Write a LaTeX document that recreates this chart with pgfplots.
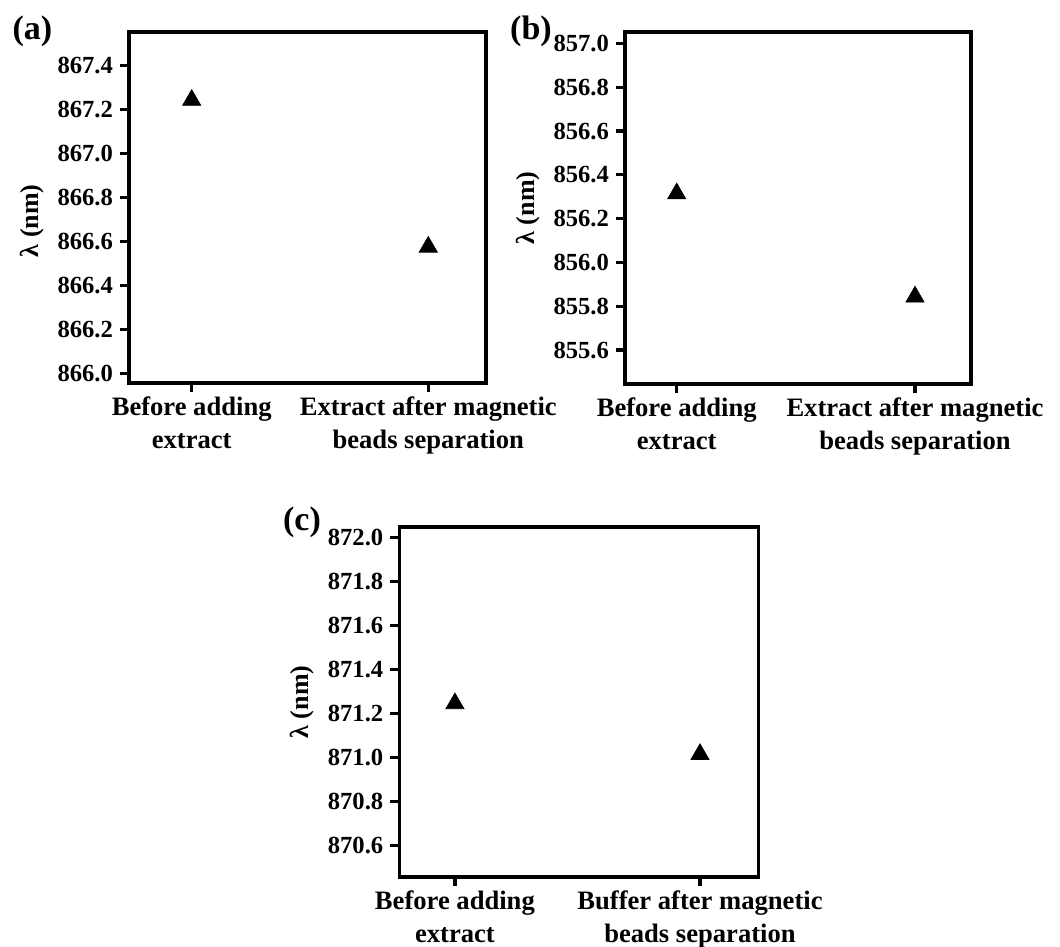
\documentclass[border=0pt]{standalone}
\usepackage{fontspec}
\setmainfont{Liberation Serif}
\usepackage{pgfplots}
\pgfplotsset{compat=1.18}
\pgfplotsset{
 panel/.style={
  scale only axis,
  anchor=south west,
  axis line style={line width=1.6pt},
  tick style={black, line width=1.6pt},
  tick align=outside,
  major tick length=4.5pt,
  xtick pos=left, ytick pos=left,
  xtick={0,1},
  x tick label style={align=center, font=\bfseries\fontsize{13.3}{16.5}\selectfont, yshift=1pt},
  y tick label style={font=\bfseries\fontsize{12.3}{14}\selectfont,
    /pgf/number format/fixed, /pgf/number format/fixed zerofill,
    /pgf/number format/precision=1, /pgf/number format/assume math mode=true},
  ylabel={λ (nm)},
  ylabel style={font=\bfseries\fontsize{13}{15}\selectfont},
  clip=false,
 },
 tri/.style={only marks, mark=triangle*, mark size=5.2pt, black}
}
\begin{document}
\begin{tikzpicture}
\useasboundingbox (0,0) rectangle (530pt,473.5pt);
% (a)
\begin{axis}[panel, at={(64.5pt,282pt)}, width=178.5pt, height=175.5pt,
  xmin=-0.265, xmax=1.244, ymin=865.956, ymax=867.553,
  ytick={866.0,866.2,866.4,866.6,866.8,867.0,867.2,867.4},
  xticklabels={{Before adding\\extract},{Extract after magnetic\\beads separation}},
  ylabel style={at={(ticklabel cs:0.462)}}]
\addplot[tri] coordinates {(0,867.243) (1,866.575)};
\end{axis}
% (b)
\begin{axis}[panel, at={(312.5pt,281.5pt)}, width=173pt, height=176pt,
  xmin=-0.217, xmax=1.235, ymin=855.445, ymax=857.052,
  ytick={855.6,855.8,856.0,856.2,856.4,856.6,856.8,857.0},
  xticklabels={{Before adding\\extract},{Extract after magnetic\\beads separation}}]
\addplot[tri] coordinates {(0,856.314) (1,855.843)};
\end{axis}
% (c)
\begin{axis}[panel, at={(199.65pt,35pt)}, width=179.5pt, height=175pt,
  xmin=-0.227, xmax=1.238, ymin=870.455, ymax=872.047,
  ytick={870.6,870.8,871.0,871.2,871.4,871.6,871.8,872.0},
  xticklabels={{Before adding\\extract},{Buffer after magnetic\\beads separation}}]
\addplot[tri] coordinates {(0,871.244) (1,871.013)};
\end{axis}
\node[font=\bfseries\fontsize{17}{19}\selectfont] at (16.25pt,457.75pt) {(a)};
\node[font=\bfseries\fontsize{17}{19}\selectfont] at (265.5pt,458pt) {(b)};
\node[font=\bfseries\fontsize{17}{19}\selectfont] at (151pt,212.5pt) {(c)};
\end{tikzpicture}
\end{document}
